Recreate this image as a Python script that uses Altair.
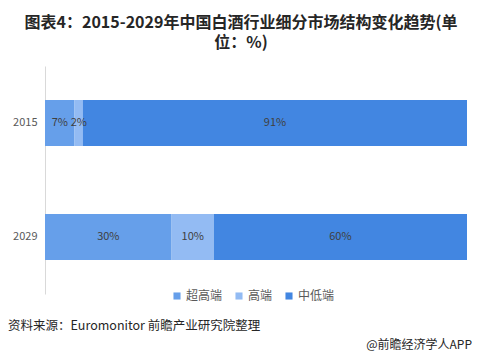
import altair as alt
import pandas as pd

years = ["2015", "2015", "2015", "2029", "2029", "2029"]
segments = ["超高端", "高端", "中低端", "超高端", "高端", "中低端"]
values = [7, 2, 91, 30, 10, 60]
order = [0, 1, 2, 0, 1, 2]
labels = ["7%", "2%", "91%", "30%", "10%", "60%"]

seg_domain = ["超高端", "高端", "中低端"]
seg_colors = ["#669fea", "#93bbf3", "#4286e1"]

title_lines = ["图表4：2015-2029年中国白酒行业细分市场结构变化趋势(单", "位：%)"]
source_text = "资料来源：Euromonitor 前瞻产业研究院整理"
brand_text = "@前瞻经济学人APP"

FONT = "Noto Sans CJK SC"

df = pd.DataFrame({"year": years, "seg": segments, "val": values,
                   "ord": order, "lab": labels})

y_enc = alt.Y("year:N", sort=["2015", "2029"],
              scale=alt.Scale(paddingInner=0.596, paddingOuter=0.298),
              axis=alt.Axis(title=None, ticks=False, domainColor="#d9d9d9",
                            labelFont=FONT, labelFontSize=11, labelColor="#595959",
                            labelPadding=8))

bars = alt.Chart(df).mark_bar().encode(
    x=alt.X("val:Q", stack="zero", scale=alt.Scale(domain=[0, 100], nice=False),
            axis=None),
    y=y_enc,
    color=alt.Color("seg:N", sort=seg_domain,
                    scale=alt.Scale(domain=seg_domain, range=seg_colors),
                    legend=alt.Legend(title=None, orient="none", direction="horizontal",
                                      legendX=126, legendY=224,
                                      symbolType="square", symbolSize=50,
                                      symbolStrokeWidth=0,
                                      labelFont=FONT, labelFontSize=12,
                                      labelColor="#595959", columnPadding=10,
                                      labelOffset=3)),
    order=alt.Order("ord:Q"),
)

texts = alt.Chart(df).mark_text(font=FONT, fontSize=11, color="#404040").encode(
    x=alt.X("mid:Q"),
    y=alt.Y("year:N", sort=["2015", "2029"]),
    text="lab:N",
).transform_window(
    cum="sum(val)", sort=[alt.SortField("ord")], groupby=["year"]
).transform_calculate(mid="datum.cum - datum.val/2")

meta = pd.DataFrame({"a": [0]})
source = alt.Chart(meta).mark_text(font=FONT, fontSize=12.5, color="#262626",
                                    align="left", baseline="middle").encode(
    x=alt.value(-37), y=alt.value(260), text=alt.value(source_text))
brand = alt.Chart(meta).mark_text(font=FONT, fontSize=12, color="#262626",
                                   align="right", baseline="middle").encode(
    x=alt.value(427), y=alt.value(279), text=alt.value(brand_text))

chart = alt.layer(bars, texts, source, brand).properties(
    width=422, height=228,
    title=alt.TitleParams(title_lines, font=FONT, fontSize=16, fontWeight="bold",
                          color="#262626", anchor="middle", dx=-15,
                          lineHeight=20, offset=15),
    autosize=alt.AutoSizeParams(type="none"),
    padding={"left": 37, "top": 58, "right": 7, "bottom": 58},
).configure_view(stroke=None).configure_legend(padding=0)

chart.save("out.html", embed_options={"renderer": "svg", "actions": False})
